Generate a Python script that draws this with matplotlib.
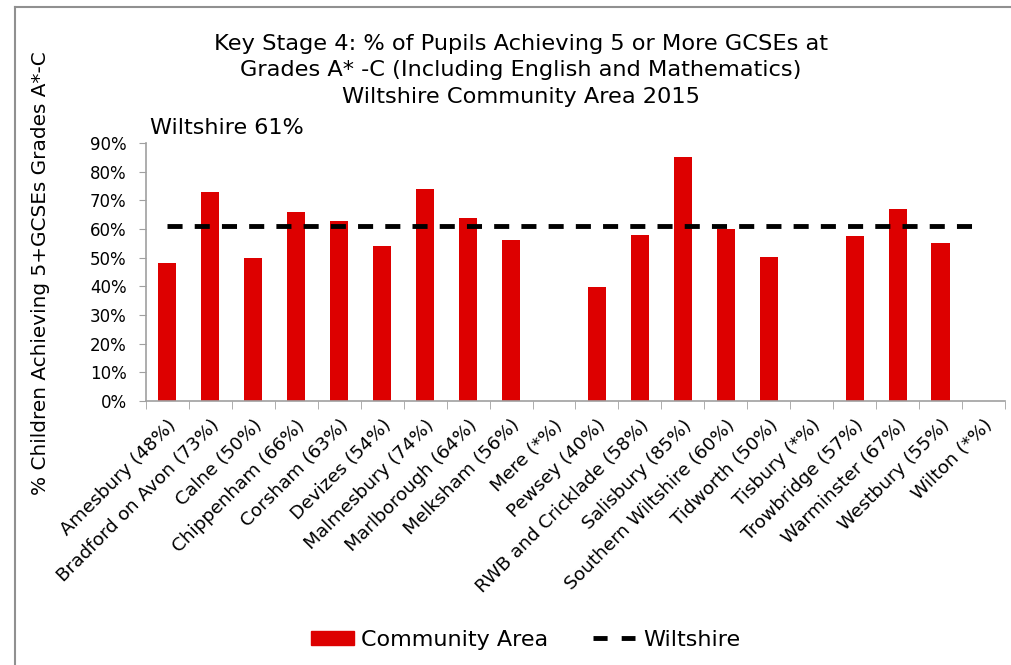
import numpy as np
import matplotlib
matplotlib.use("Agg")
import matplotlib.pyplot as plt
from matplotlib.lines import Line2D
from matplotlib.patches import Patch

# Community areas and their % achieving 5+ GCSEs A*-C (None = suppressed)
areas = ['Amesbury (48%)', 'Bradford on Avon (73%)', 'Calne (50%)', 'Chippenham (66%)',
         'Corsham (63%)', 'Devizes (54%)', 'Malmesbury (74%)', 'Marlborough (64%)',
         'Melksham (56%)', 'Mere (*%)', 'Pewsey (40%)', 'RWB and Cricklade (58%)',
         'Salisbury (85%)', 'Southern Wiltshire (60%)', 'Tidworth (50%)', 'Tisbury (*%)',
         'Trowbridge (57%)', 'Warminster (67%)', 'Westbury (55%)', 'Wilton (*%)']
community = [48, 73, 50, 65.8, 62.9, 54, 74, 64, 56, None, 39.7, 58, 85, 60, 50.3, None,
             57.4, 67, 55, None]
wiltshire = 61

plt.rcParams['font.family'] = ['DejaVu Sans']

fig = plt.figure(figsize=(10.11, 6.65), dpi=100)
ax = fig.add_axes([0.1444, 0.397, 0.8496, 0.388])

x = np.arange(len(areas))
vals = np.array([np.nan if v is None else v for v in community], dtype=float)
ax.bar(x, vals, width=0.42, color='#dd0000', zorder=2)
ax.plot(x, [wiltshire] * len(x), color='black', lw=3.5, dashes=(3.1, 2.5), zorder=3)

ax.set_xlim(-0.5, len(areas) - 0.5)
ax.set_ylim(0, 90)
ax.set_yticks(range(0, 91, 10))
ax.set_yticklabels([f'{t}%' for t in range(0, 91, 10)], fontsize=12)
ax.set_xticks(x)
ax.set_xticklabels(areas, rotation=45, ha='right', rotation_mode='anchor', fontsize=13.3)
ax.tick_params(axis='x', length=0, pad=11)
ax.set_xticks(np.arange(-0.5, len(areas)), minor=True)
ax.tick_params(axis='x', which='minor', length=6, color='#a0a0a0')
ax.tick_params(axis='y', length=5, color='#a0a0a0', pad=9)

for s in ['top', 'right']:
    ax.spines[s].set_visible(False)
for s in ['left', 'bottom']:
    ax.spines[s].set_color('#a0a0a0')
    ax.spines[s].set_linewidth(1.2)

fig.text(0.515, 0.894, 'Key Stage 4: % of Pupils Achieving 5 or More GCSEs at\n'
         'Grades A* -C (Including English and Mathematics)\n'
         'Wiltshire Community Area 2015',
         ha='center', va='center', fontsize=16.2, linespacing=1.4)
fig.text(0.148, 0.808, 'Wiltshire 61%', ha='left', va='center', fontsize=16)
fig.text(0.04, 0.589, '% Children Achieving 5+GCSEs Grades A*-C', rotation=90,
         ha='center', va='center', fontsize=14.4)

handles = [Patch(color='#dd0000'),
           Line2D([0], [0], color='black', lw=3.5, dashes=(2.9, 2.9))]
fig.legend(handles, ['Community Area', 'Wiltshire'], loc='center',
           bbox_to_anchor=(0.52, 0.038), ncol=2, frameon=False, fontsize=16,
           handlelength=1.9, handleheight=0.6, columnspacing=2.0, handletextpad=0.35)

# outer chart border (top and left visible)
fig.add_artist(Line2D([15 / 1011, 1.0], [1 - 7 / 665, 1 - 7 / 665],
                      transform=fig.transFigure, color='#909090', lw=1.5))
fig.add_artist(Line2D([15 / 1011, 15 / 1011], [0, 1 - 7 / 665],
                      transform=fig.transFigure, color='#909090', lw=1.5))

fig.savefig('out.png', dpi=100)
